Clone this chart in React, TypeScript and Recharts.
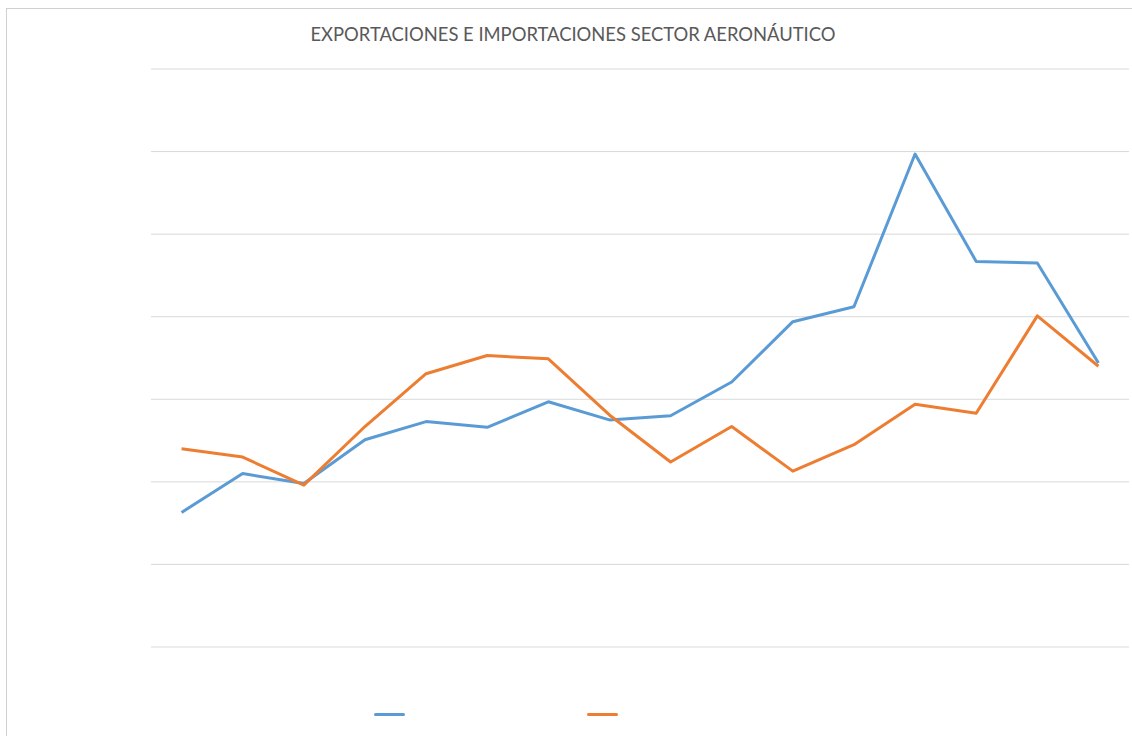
import { LineChart, Line, XAxis, YAxis, CartesianGrid, Legend } from 'recharts';

// categories are not labelled in the original chart
const years = [
  '2000', '2001', '2002', '2003', '2004', '2005', '2006', '2007',
  '2008', '2009', '2010', '2011', '2012', '2013', '2014', '2015',
];

const exportaciones = [
  1.63, 2.1, 1.98, 2.51, 2.73, 2.66, 2.97, 2.75,
  2.8, 3.21, 3.94, 4.12, 5.97, 4.67, 4.65, 3.44,
];

const importaciones = [
  2.4, 2.3, 1.96, 2.67, 3.31, 3.53, 3.49, 2.81,
  2.24, 2.67, 2.13, 2.45, 2.94, 2.83, 4.01, 3.4,
];

const yTicks = [0, 1, 2, 3, 4, 5, 6, 7];

const data = years.map((year, i) => ({
  year,
  exportaciones: exportaciones[i],
  importaciones: importaciones[i],
}));

const LegendLines = ({ payload }: { payload?: any[] }) => (
  <div style={{ display: 'flex' }}>
    {(payload || []).map((entry) => (
      <div key={entry.value} style={{ width: 213, height: 4 }}>
        <div
          style={{
            width: 31,
            height: 3,
            borderRadius: 1.5,
            background: entry.color,
          }}
        />
      </div>
    ))}
  </div>
);

const App = () => {
  return (
    <div
      style={{
        position: 'absolute',
        left: 6,
        top: 8,
        width: 1125,
        height: 727,
        borderLeft: '1px solid #d0d0d0',
        borderTop: '1px solid #d0d0d0',
        background: '#fff',
        overflow: 'hidden',
      }}
    >
      <div
        style={{
          position: 'absolute',
          top: 14,
          left: 0,
          width: 1132,
          textAlign: 'center',
          fontFamily: 'Lato, "Open Sans", sans-serif',
          fontSize: 18.4,
          color: '#595959',
        }}
      >
        EXPORTACIONES E IMPORTACIONES SECTOR AERONÁUTICO
      </div>
      <LineChart
        width={1125}
        height={727}
        data={data}
        margin={{ top: 60, right: 3, left: 144, bottom: 85 }}
      >
        <CartesianGrid vertical={false} stroke="#d9d9d9" strokeWidth={1} />
        <XAxis dataKey="year" scale="band" hide />
        <YAxis domain={[0, 7]} ticks={yTicks} hide />
        <Legend
          content={<LegendLines />}
          wrapperStyle={{ left: 367, top: 704, width: 500, bottom: 'auto' }}
        />
        <Line
          type="linear"
          dataKey="exportaciones"
          stroke="#5B9BD5"
          strokeWidth={3}
          strokeLinejoin="round"
          dot={false}
          activeDot={false}
          isAnimationActive={false}
        />
        <Line
          type="linear"
          dataKey="importaciones"
          stroke="#ED7D31"
          strokeWidth={3}
          strokeLinejoin="round"
          dot={false}
          activeDot={false}
          isAnimationActive={false}
        />
      </LineChart>
    </div>
  );
};

export default App;
